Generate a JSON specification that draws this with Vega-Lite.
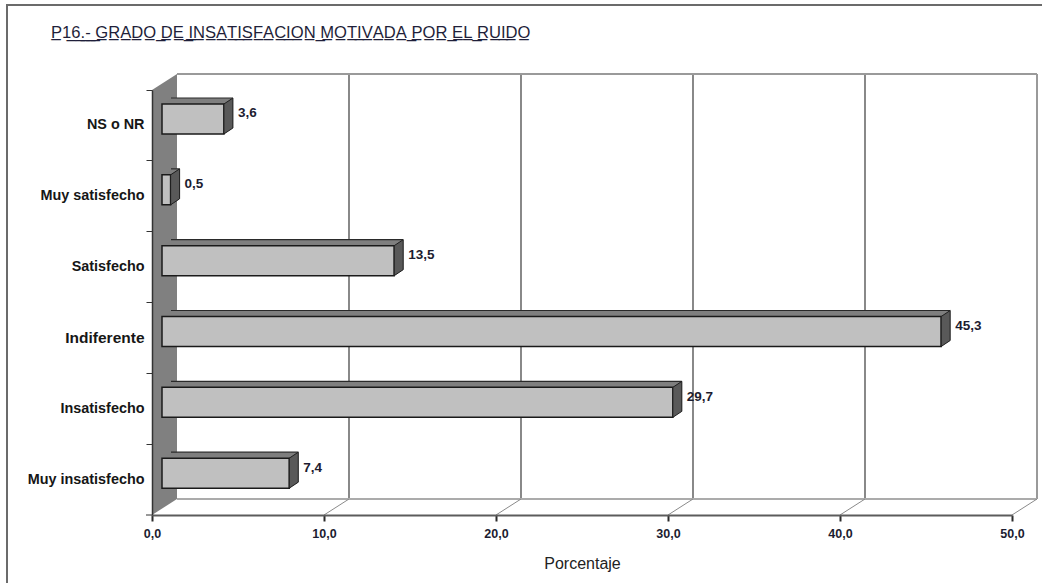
{
  "$schema": "https://vega.github.io/schema/vega-lite/v6.json",
  "width": 1035,
  "height": 578,
  "autosize": {"type": "none"},
  "padding": {"left": 7, "top": 5, "right": 0, "bottom": 0},
  "background": "white",
  "config": {
    "locale": {"number": {"decimal": ",", "thousands": ".", "grouping": [3], "currency": ["", " €"]}},
    "view": {"stroke": "#6b6b6b", "strokeWidth": 2, "strokeDash": [1035, 1613, 578], "fill": "white"},
    "font": "Liberation Sans"
  },
  "title": {
    "text": "P\u03321\u03326\u0332.\u0332-\u0332 \u0332G\u0332R\u0332A\u0332D\u0332O\u0332 \u0332D\u0332E\u0332 \u0332I\u0332N\u0332S\u0332A\u0332T\u0332I\u0332S\u0332F\u0332A\u0332C\u0332I\u0332O\u0332N\u0332 \u0332M\u0332O\u0332T\u0332I\u0332V\u0332A\u0332D\u0332A\u0332 \u0332P\u0332O\u0332R\u0332 \u0332E\u0332L\u0332 \u0332R\u0332U\u0332I\u0332D\u0332O\u0332",
    "anchor": "start",
    "frame": "group",
    "orient": "top",
    "offset": -49.5,
    "baseline": "alphabetic",
    "dx": 44,
    "font": "Liberation Sans",
    "fontSize": 16.6,
    "fontWeight": "normal",
    "color": "#1f1f3a"
  },
  "datasets": {
    "respuestas": [
      {"cat": "NS o NR", "value": 3.6},
      {"cat": "Muy satisfecho", "value": 0.5},
      {"cat": "Satisfecho", "value": 13.5},
      {"cat": "Indiferente", "value": 45.3},
      {"cat": "Insatisfecho", "value": 29.7},
      {"cat": "Muy insatisfecho", "value": 7.4}
    ],
    "caja": [
      {"desde": "NS o NR", "hasta": "Muy insatisfecho", "ini": 0, "fin": 50}
    ],
    "rejilla": [
      {"value": 10, "desde": "NS o NR", "hasta": "Muy insatisfecho"},
      {"value": 20, "desde": "NS o NR", "hasta": "Muy insatisfecho"},
      {"value": 30, "desde": "NS o NR", "hasta": "Muy insatisfecho"},
      {"value": 40, "desde": "NS o NR", "hasta": "Muy insatisfecho"}
    ],
    "marcas": [
      {"value": 10, "hasta": "Muy insatisfecho"},
      {"value": 20, "hasta": "Muy insatisfecho"},
      {"value": 30, "hasta": "Muy insatisfecho"},
      {"value": 40, "hasta": "Muy insatisfecho"},
      {"value": 50, "hasta": "Muy insatisfecho"}
    ]
  },
  "layer": [
    {
      "data": {"name": "caja"},
      "mark": {"type": "point", "shape": "M0,0L25,-16L25,409L0,425Z", "size": 4, "filled": true, "fill": "#808080", "opacity": 1, "strokeWidth": 0, "yOffset": -35.42},
      "encoding": {
        "x": {"field": "ini", "type": "quantitative"},
        "y": {"field": "desde", "type": "nominal"}
      }
    },
    {
      "data": {"name": "rejilla"},
      "mark": {"type": "rule", "color": "#3a3a3a", "strokeWidth": 1.2, "xOffset": 25, "yOffset": -51.42, "y2Offset": 19.42},
      "encoding": {
        "x": {"field": "value", "type": "quantitative"},
        "y": {"field": "desde", "type": "nominal"},
        "y2": {"field": "hasta"}
      }
    },
    {
      "data": {"name": "caja"},
      "mark": {"type": "rule", "color": "#9a9a9a", "strokeWidth": 2, "xOffset": 25, "yOffset": -51.42, "y2Offset": 19.42},
      "encoding": {
        "x": {"field": "fin", "type": "quantitative"},
        "y": {"field": "desde", "type": "nominal"},
        "y2": {"field": "hasta"}
      }
    },
    {
      "data": {"name": "caja"},
      "mark": {"type": "rule", "color": "#9a9a9a", "strokeWidth": 2, "xOffset": 25, "x2Offset": 25, "yOffset": -51.42},
      "encoding": {
        "x": {"field": "ini", "type": "quantitative"},
        "x2": {"field": "fin"},
        "y": {"field": "desde", "type": "nominal"}
      }
    },
    {
      "data": {"name": "caja"},
      "mark": {"type": "rule", "color": "#ababab", "strokeWidth": 2, "xOffset": 25, "x2Offset": 25, "yOffset": 19.42},
      "encoding": {
        "x": {"field": "ini", "type": "quantitative"},
        "x2": {"field": "fin"},
        "y": {"field": "hasta", "type": "nominal"}
      }
    },
    {
      "data": {"name": "marcas"},
      "mark": {"type": "rule", "color": "#8a8a8a", "strokeWidth": 1, "x2Offset": 25, "yOffset": 35.42, "y2Offset": 19.42},
      "encoding": {
        "x": {"field": "value", "type": "quantitative"},
        "x2": {"field": "value"},
        "y": {"field": "hasta", "type": "nominal"},
        "y2": {"field": "hasta"}
      }
    },
    {
      "data": {"name": "caja"},
      "mark": {"type": "rule", "color": "#333333", "strokeWidth": 1, "x2Offset": -6, "yOffset": 35.42},
      "encoding": {
        "x": {"field": "ini", "type": "quantitative"},
        "x2": {"field": "ini"},
        "y": {"field": "hasta", "type": "nominal"}
      }
    },
    {
      "data": {"name": "respuestas"},
      "mark": {"type": "bar", "height": 30, "xOffset": 19, "x2Offset": 19, "yOffset": -12.4, "fill": "#7f7f7f", "strokeWidth": 0},
      "encoding": {"x": {"field": "value", "type": "quantitative"}, "y": {"field": "cat", "type": "nominal"}}
    },
    {
      "data": {"name": "respuestas"},
      "mark": {"type": "bar", "height": 30, "xOffset": 17.2, "x2Offset": 17.2, "yOffset": -11.2, "fill": "#7f7f7f", "strokeWidth": 0},
      "encoding": {"x": {"field": "value", "type": "quantitative"}, "y": {"field": "cat", "type": "nominal"}}
    },
    {
      "data": {"name": "respuestas"},
      "mark": {"type": "bar", "height": 30, "xOffset": 15.4, "x2Offset": 15.4, "yOffset": -10, "fill": "#7f7f7f", "strokeWidth": 0},
      "encoding": {"x": {"field": "value", "type": "quantitative"}, "y": {"field": "cat", "type": "nominal"}}
    },
    {
      "data": {"name": "respuestas"},
      "mark": {"type": "bar", "height": 30, "xOffset": 13.6, "x2Offset": 13.6, "yOffset": -8.8, "fill": "#7f7f7f", "strokeWidth": 0},
      "encoding": {"x": {"field": "value", "type": "quantitative"}, "y": {"field": "cat", "type": "nominal"}}
    },
    {
      "data": {"name": "respuestas"},
      "mark": {"type": "bar", "height": 30, "xOffset": 11.8, "x2Offset": 11.8, "yOffset": -7.6, "fill": "#7f7f7f", "strokeWidth": 0},
      "encoding": {"x": {"field": "value", "type": "quantitative"}, "y": {"field": "cat", "type": "nominal"}}
    },
    {
      "data": {"name": "respuestas"},
      "mark": {"type": "bar", "height": 1.2, "xOffset": 19, "x2Offset": 19, "yOffset": -27.4, "fill": "#2a2a2a", "strokeWidth": 0},
      "encoding": {"x": {"field": "value", "type": "quantitative"}, "y": {"field": "cat", "type": "nominal"}}
    },
    {
      "data": {"name": "respuestas"},
      "mark": {"type": "bar", "height": 30, "xOffset": 10, "x2Offset": 10, "yOffset": -6.4, "fill": "#c0c0c0", "stroke": "#1a1a1a", "strokeWidth": 1.5},
      "encoding": {
        "x": {
          "field": "value",
          "type": "quantitative",
          "scale": {"domain": [0, 50], "range": [145, 1005], "nice": false, "zero": true},
          "axis": {
            "title": "Porcentaje",
            "offset": -68,
            "values": [0, 10, 20, 30, 40, 50],
            "format": ".1f",
            "grid": false,
            "domainColor": "#5c5c5c",
            "domainWidth": 2,
            "tickColor": "#2b2b2b",
            "tickWidth": 2,
            "tickSize": 6,
            "labelFont": "Liberation Sans",
            "labelFontSize": 12.5,
            "labelFontWeight": "bold",
            "labelColor": "#1c1c30",
            "labelPadding": 6,
            "labelFlush": false,
            "labelOverlap": false,
            "titleFont": "Liberation Sans",
            "titleFontSize": 16,
            "titleFontWeight": "normal",
            "titleColor": "#222222",
            "titlePadding": 16,
            "zindex": 1
          }
        },
        "y": {
          "field": "cat",
          "type": "nominal",
          "scale": {
            "domain": ["NS o NR", "Muy satisfecho", "Satisfecho", "Indiferente", "Insatisfecho", "Muy insatisfecho"],
            "range": [85, 510],
            "paddingInner": 0,
            "paddingOuter": 0
          },
          "axis": {
            "title": null,
            "offset": -145,
            "bandPosition": 0,
            "domainColor": "#333333",
            "domainWidth": 1.5,
            "tickColor": "#333333",
            "tickWidth": 1,
            "tickSize": 6,
            "labelFont": "Liberation Sans",
            "labelFontWeight": "bold",
            "labelFontSize": {"expr": "datum.value === 'Indiferente' ? 15.5 : 14.4"},
            "labelColor": "#161616",
            "labelPadding": 2,
            "labelLimit": 300,
            "zindex": 1
          }
        }
      }
    },
    {
      "data": {"name": "respuestas"},
      "mark": {"type": "point", "shape": "M0,-15L9,-21L9,9L0,15Z", "size": 4, "filled": true, "fill": "#595959", "stroke": "#1e1e1e", "strokeWidth": 1, "opacity": 1, "xOffset": 10, "yOffset": -6.4},
      "encoding": {
        "x": {"field": "value", "type": "quantitative"},
        "y": {"field": "cat", "type": "nominal"}
      }
    },
    {
      "data": {"name": "respuestas"},
      "mark": {"type": "text", "align": "left", "baseline": "middle", "dx": 24, "dy": -12, "font": "Liberation Sans", "fontSize": 13.5, "fontWeight": "bold", "color": "#1c1c30"},
      "encoding": {
        "x": {"field": "value", "type": "quantitative"},
        "y": {"field": "cat", "type": "nominal"},
        "text": {"field": "value", "type": "quantitative", "format": ".1f"}
      }
    }
  ]
}
